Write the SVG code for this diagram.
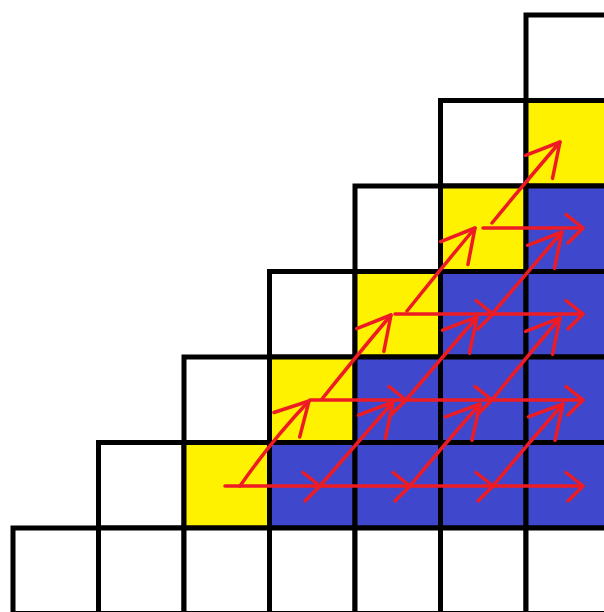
<svg xmlns="http://www.w3.org/2000/svg" width="604" height="612" viewBox="0 0 604 612">
<style>
.c{stroke:#000;stroke-width:5}
.w{fill:#fff}
.y{fill:#fff200}
.b{fill:#3f48cc}
.r{fill:none;stroke:#ed1c24;stroke-width:3.5;stroke-linecap:round;stroke-linejoin:round}
</style>
<defs>
<marker id="dh" markerUnits="userSpaceOnUse" orient="auto" refX="0" refY="0" markerWidth="1" markerHeight="1" overflow="visible">
<path class="r" d="M-32.5,-17.5 L0,0 L-32.5,18"/>
</marker>
<marker id="ch" markerUnits="userSpaceOnUse" orient="auto" refX="0" refY="0" markerWidth="1" markerHeight="1" overflow="visible">
<path class="r" d="M-17,-13.5 L0,0 L-15,15"/>
</marker>
</defs>
<rect width="604" height="612" fill="#fff"/>
<g id="cells">
<g id="r0c6"><rect class="c w" x="526" y="15" width="85.5" height="85.5"/></g>
<g id="r1c5"><rect class="c w" x="440.5" y="100.5" width="85.5" height="85.5"/></g>
<g id="r1c6"><rect class="c y" x="526" y="100.5" width="85.5" height="85.5"/></g>
<g id="r2c4"><rect class="c w" x="355" y="186" width="85.5" height="85.5"/></g>
<g id="r2c5"><rect class="c y" x="440.5" y="186" width="85.5" height="85.5"/></g>
<g id="r2c6"><rect class="c b" x="526" y="186" width="85.5" height="85.5"/></g>
<g id="r3c3"><rect class="c w" x="269.5" y="271.5" width="85.5" height="85.5"/></g>
<g id="r3c4"><rect class="c y" x="355" y="271.5" width="85.5" height="85.5"/></g>
<g id="r3c5"><rect class="c b" x="440.5" y="271.5" width="85.5" height="85.5"/></g>
<g id="r3c6"><rect class="c b" x="526" y="271.5" width="85.5" height="85.5"/></g>
<g id="r4c2"><rect class="c w" x="184" y="357" width="85.5" height="85.5"/></g>
<g id="r4c3"><rect class="c y" x="269.5" y="357" width="85.5" height="85.5"/></g>
<g id="r4c4"><rect class="c b" x="355" y="357" width="85.5" height="85.5"/></g>
<g id="r4c5"><rect class="c b" x="440.5" y="357" width="85.5" height="85.5"/></g>
<g id="r4c6"><rect class="c b" x="526" y="357" width="85.5" height="85.5"/></g>
<g id="r5c1"><rect class="c w" x="98.5" y="442.5" width="85.5" height="85.5"/></g>
<g id="r5c2"><rect class="c y" x="184" y="442.5" width="85.5" height="85.5"/></g>
<g id="r5c3"><rect class="c b" x="269.5" y="442.5" width="85.5" height="85.5"/></g>
<g id="r5c4"><rect class="c b" x="355" y="442.5" width="85.5" height="85.5"/></g>
<g id="r5c5"><rect class="c b" x="440.5" y="442.5" width="85.5" height="85.5"/></g>
<g id="r5c6"><rect class="c b" x="526" y="442.5" width="85.5" height="85.5"/></g>
<g id="r6c0"><rect class="c w" x="13" y="528" width="85.5" height="85.5"/></g>
<g id="r6c1"><rect class="c w" x="98.5" y="528" width="85.5" height="85.5"/></g>
<g id="r6c2"><rect class="c w" x="184" y="528" width="85.5" height="85.5"/></g>
<g id="r6c3"><rect class="c w" x="269.5" y="528" width="85.5" height="85.5"/></g>
<g id="r6c4"><rect class="c w" x="355" y="528" width="85.5" height="85.5"/></g>
<g id="r6c5"><rect class="c w" x="440.5" y="528" width="85.5" height="85.5"/></g>
<g id="r6c6"><rect class="c w" x="526" y="528" width="85.5" height="85.5"/></g>
</g>
<g id="connectors">
<polyline class="r" marker-mid="url(#ch)" marker-end="url(#ch)" points="225,486 320,486 410,486 493,486 583,486"/>
<polyline class="r" marker-mid="url(#ch)" marker-end="url(#ch)" points="310,400 406,400 492,400 583,400"/>
<polyline class="r" marker-mid="url(#ch)" marker-end="url(#ch)" points="395,314 493,314 583,314"/>
<polyline class="r" marker-end="url(#ch)" points="483,228 583,228"/>
<path class="r" marker-end="url(#dh)" d="M240,486 Q272,440 309,401"/>
<path class="r" marker-end="url(#dh)" d="M320,486 Q355,446 393,402"/>
<path class="r" marker-end="url(#dh)" d="M410,486 Q443,446 480,404"/>
<path class="r" marker-end="url(#dh)" d="M493,486 Q526,446 563,404"/>
<path class="r" marker-end="url(#dh)" d="M322,399 Q354,359 391,315"/>
<path class="r" marker-end="url(#dh)" d="M406,400 Q440,360 477,317"/>
<path class="r" marker-end="url(#dh)" d="M492,400 Q524,360 560,318"/>
<path class="r" marker-end="url(#dh)" d="M407,311 Q439,271 475,228"/>
<path class="r" marker-end="url(#dh)" d="M493,313 Q526,274 562,232"/>
<path class="r" marker-end="url(#dh)" d="M492,223 Q524,184 560,142"/>
</g>
</svg>
